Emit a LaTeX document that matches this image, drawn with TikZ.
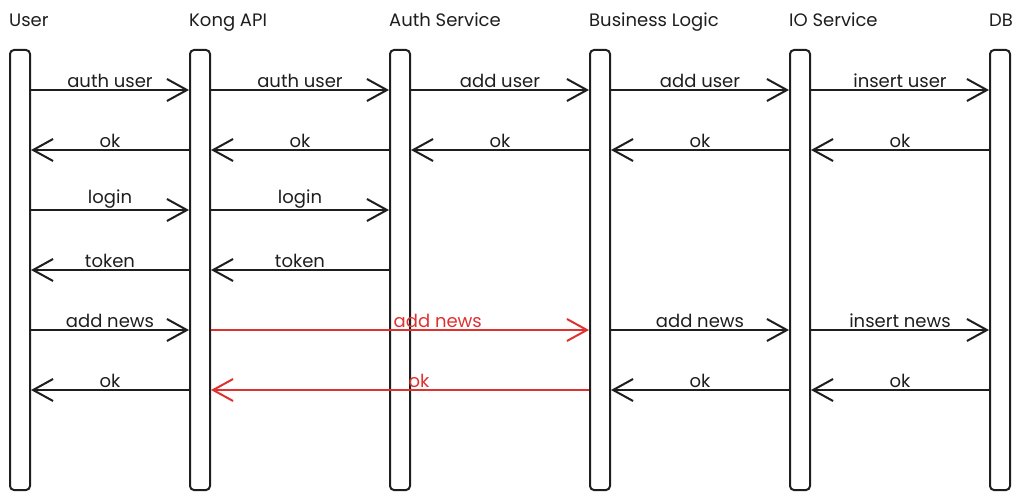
\documentclass[tikz,border=0pt]{standalone}
\usepackage{fontspec}
\setmainfont{Poppins}
\usetikzlibrary{arrows.meta,positioning}
\definecolor{ink}{HTML}{1E1E1E}
\definecolor{alert}{HTML}{E03131}

\begin{document}
\begin{tikzpicture}[x=1pt,y=-1pt]
\tikzstyle{life}=[rectangle, rounded corners=4pt, line width=2pt, draw=ink, minimum width=20pt, minimum height=440pt, inner sep=0pt, node distance=200pt, on grid]
\tikzstyle{head}=[font=\fontsize{18}{21}\selectfont, text=ink, anchor=base west, inner sep=0pt]
\tikzstyle{msg}=[line width=2pt, draw=ink, -{Straight Barb[length=20pt,width=22pt]}]
\tikzstyle{hot}=[msg, draw=alert]
\tikzstyle{lbl}=[font=\fontsize{18}{21}\selectfont, text=ink, above, inner sep=1pt]
\tikzstyle{hotlbl}=[lbl, text=alert]

  \useasboundingbox (0,0) rectangle (1030,500);

  \node[life] (user) at (20,270)          {};
  \node[life] (kong) [right=180pt of user] {};
  \node[life] (auth) [right=of kong]       {};
  \node[life] (biz)  [right=of auth]       {};
  \node[life] (io)   [right=of biz]        {};
  \node[life] (db)   [right=of io]         {};

  \node[head] (userhd) at ([yshift=22pt]user.north west) {User};
  \node[head] (konghd) at ([yshift=22pt]kong.north west) {Kong API};
  \node[head] (authhd) at ([yshift=22pt]auth.north west) {Auth Service};
  \node[head] (bizhd)  at ([yshift=22pt]biz.north west)  {Business Logic};
  \node[head] (iohd)   at ([yshift=22pt]io.north west)   {IO Service};
  \node[head] (dbhd)   at ([yshift=22pt]db.north west)   {DB};

  \coordinate (r1) at (0,90);
  \coordinate (r2) at (0,150);
  \coordinate (r3) at (0,210);
  \coordinate (r4) at (0,270);
  \coordinate (r5) at (0,330);
  \coordinate (r6) at (0,390);

  % register
  \path (user.east |- r1) edge [msg] node [lbl] {auth user}   (kong.west |- r1);
  \path (kong.east |- r1) edge [msg] node [lbl] {auth user}   (auth.west |- r1);
  \path (auth.east |- r1) edge [msg] node [lbl] {add user}    (biz.west |- r1);
  \path (biz.east |- r1)  edge [msg] node [lbl] {add user}    (io.west |- r1);
  \path (io.east |- r1)   edge [msg] node [lbl] {insert user} (db.west |- r1);

  \path (kong.west |- r2) edge [msg] node [lbl] {ok} (user.east |- r2);
  \path (auth.west |- r2) edge [msg] node [lbl] {ok} (kong.east |- r2);
  \path (biz.west |- r2)  edge [msg] node [lbl] {ok} (auth.east |- r2);
  \path (io.west |- r2)   edge [msg] node [lbl] {ok} (biz.east |- r2);
  \path (db.west |- r2)   edge [msg] node [lbl] {ok} (io.east |- r2);

  % login
  \path (user.east |- r3) edge [msg] node [lbl] {login} (kong.west |- r3);
  \path (kong.east |- r3) edge [msg] node [lbl] {login} (auth.west |- r3);

  \path (kong.west |- r4) edge [msg] node [lbl] {token} (user.east |- r4);
  \path (auth.west |- r4) edge [msg] node [lbl] {token} (kong.east |- r4);

  % news
  \path (user.east |- r5) edge [msg] node [lbl] {add news}            (kong.west |- r5);
  \path (kong.east |- r5) edge [hot] node [hotlbl, pos=0.6] {add news} (biz.west |- r5);
  \path (biz.east |- r5)  edge [msg] node [lbl] {add news}            (io.west |- r5);
  \path (io.east |- r5)   edge [msg] node [lbl] {insert news}         (db.west |- r5);

  \path (kong.west |- r6) edge [msg] node [lbl] {ok}                  (user.east |- r6);
  \path (biz.west |- r6)  edge [hot] node [hotlbl, pos=0.45] {ok}     (kong.east |- r6);
  \path (io.west |- r6)   edge [msg] node [lbl] {ok}                  (biz.east |- r6);
  \path (db.west |- r6)   edge [msg] node [lbl] {ok}                  (io.east |- r6);

\end{tikzpicture}
\end{document}
